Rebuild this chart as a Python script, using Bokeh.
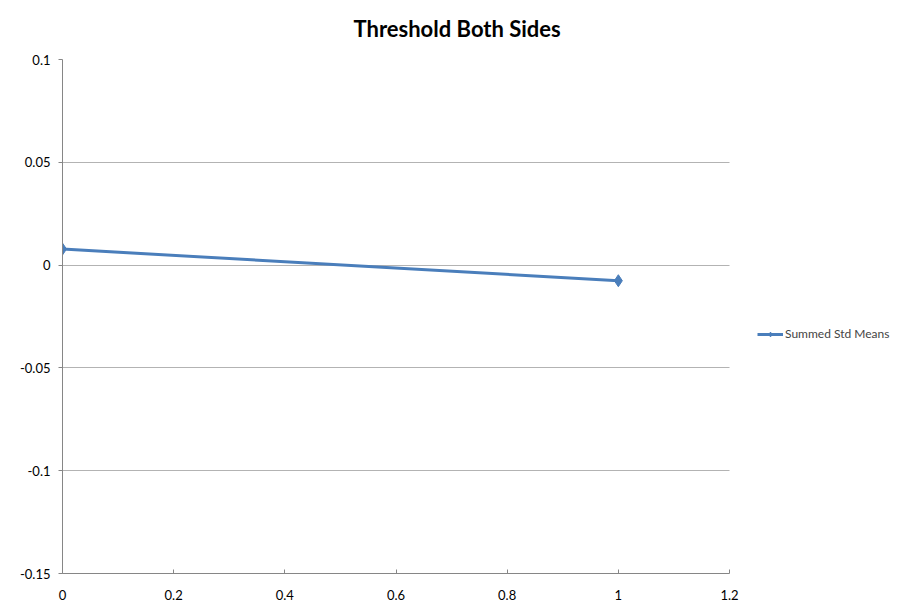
from bokeh.plotting import figure
from bokeh.models import (FixedTicker, NumeralTickFormatter, Range1d, Legend, LegendItem, Title)
from bokeh.embed import file_html
from bokeh.resources import INLINE

# data
x_vals = [0, 1]
summed_std_means = [0.0078, -0.0076]
x_ticks = [0, 0.2, 0.4, 0.6, 0.8, 1.0, 1.2]
y_ticks = [-0.15, -0.1, -0.05, 0, 0.05, 0.1]
series_name = "Summed Std Means"
title_text = "Threshold Both Sides"

FONT = "Lato"
BLUE = "#4A7EBB"

X_MIN, X_MAX = 0, 1.2
# plot area is 667px wide for 0..1.2; the frame continues to the right edge (839px)
# so the legend can sit beside the plot area
X_VIEW_END = X_MAX * 839 / 667

p = figure(width=901, height=616, output_backend="svg", toolbar_location=None,
           x_range=Range1d(X_MIN, X_VIEW_END), y_range=Range1d(-0.15, 0.1),
           min_border_left=62, min_border_right=0, min_border_top=59, min_border_bottom=43)
p.title = None
p.outline_line_color = None

xax = p.below[0]
yax = p.left[0]

# axes
xax.ticker = FixedTicker(ticks=x_ticks)
yax.ticker = FixedTicker(ticks=y_ticks)
xax.formatter = NumeralTickFormatter(format="0.[0]")
yax.formatter = NumeralTickFormatter(format="0.[00]")
xax.bounds = (X_MIN, X_MAX)
for ax in (xax, yax):
    ax.axis_line_color = "#868686"
    ax.major_tick_line_color = "#868686"
    ax.minor_tick_line_color = None
    ax.major_label_text_font = FONT
    ax.major_label_text_font_size = "13px"
    ax.major_label_text_color = "#000000"
xax.major_tick_in = 4
xax.major_tick_out = 0
xax.major_label_standoff = 16
yax.major_tick_in = 0
yax.major_tick_out = 4
yax.major_label_standoff = 8

# thin blank spacer between the plot area and the title
spacer_top = Title(text=" ", text_font=FONT, text_font_size="1px")
p.add_layout(spacer_top, "above")

t = Title(text=title_text, align="left", offset=291, text_font=FONT, text_font_size="22px",
          text_font_style="bold", text_color="#000000")
p.add_layout(t, "above")

p.xgrid.grid_line_color = None
p.ygrid.ticker = FixedTicker(ticks=y_ticks)
p.ygrid.grid_line_color = "#B3B3B3"
p.ygrid.grid_line_width = 1
p.ygrid.cross_bounds = (X_MIN, X_MAX)

r_line = p.line(x_vals, summed_std_means, line_color=BLUE, line_width=3)
r_mark = p.scatter(x_vals, summed_std_means, marker="diamond", size=12,
                   fill_color=BLUE, line_color=BLUE)

legend = Legend(items=[LegendItem(label=series_name, renderers=[r_line, r_mark])],
                location=(695, 232), border_line_color=None, background_fill_alpha=0,
                padding=0, margin=0, glyph_width=26, glyph_height=12, label_height=12,
                label_standoff=2, label_text_font=FONT, label_text_font_size="12px")
p.add_layout(legend, "center")

open("out.html", "w").write(file_html(p, INLINE))
